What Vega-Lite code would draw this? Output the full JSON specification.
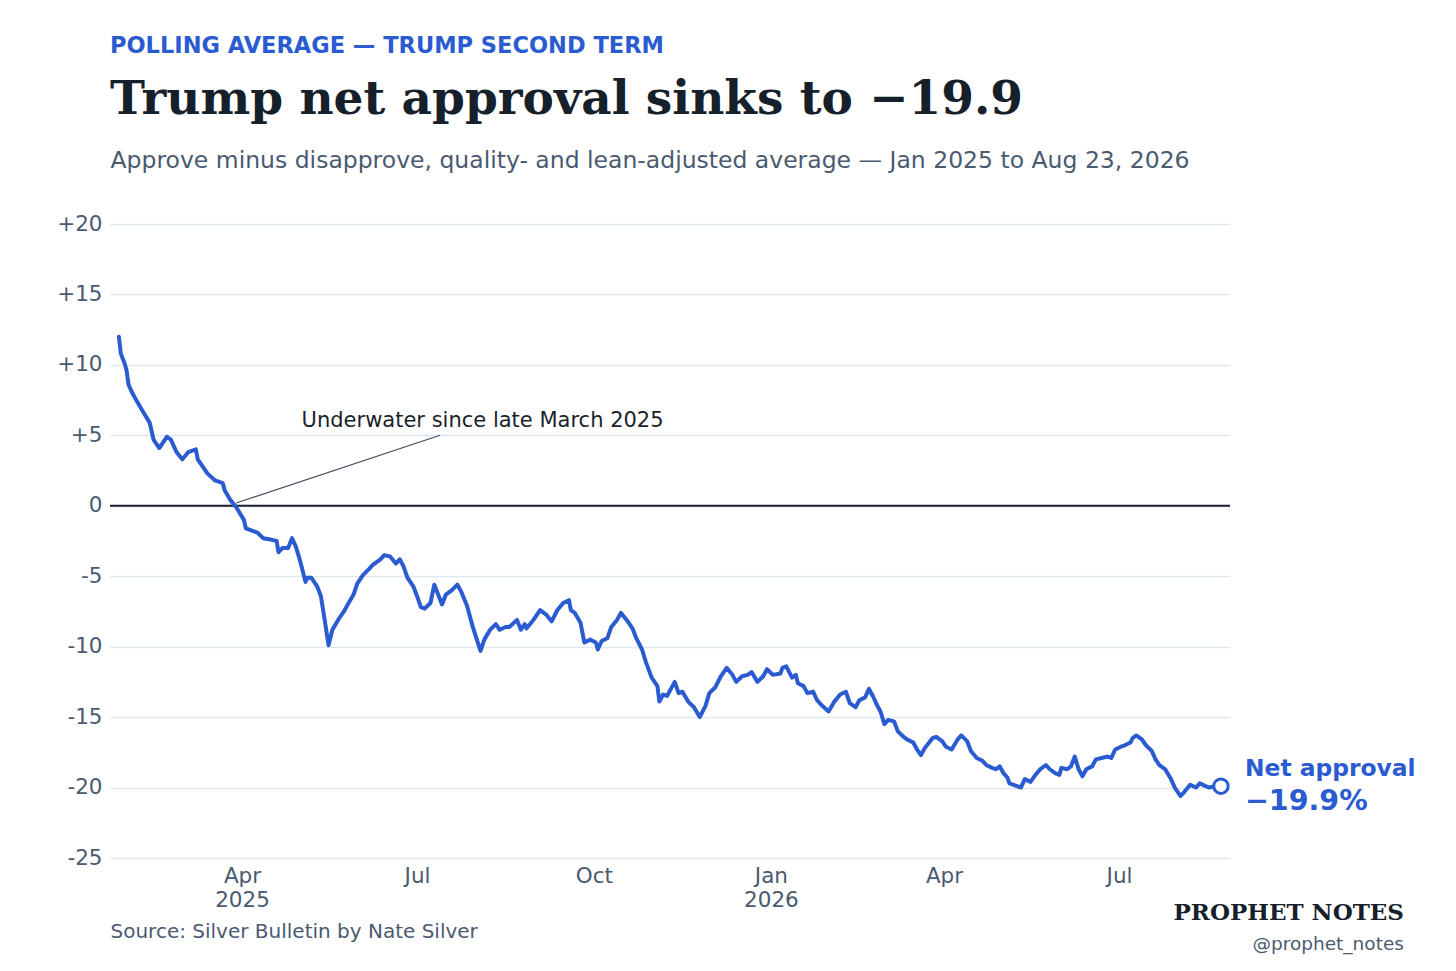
{
  "$schema": "https://vega.github.io/schema/vega-lite/v6.json",
  "width": 1120,
  "height": 634,
  "autosize": {"type": "none"},
  "padding": {"left": 110, "top": 224, "right": 226, "bottom": 113},
  "background": "white",
  "config": {"view": {"stroke": null}, "font": "DejaVu Sans"},
  "title": {
    "text": "POLLING AVERAGE — TRUMP SECOND TERM",
    "subtitle": "Trump net approval sinks to −19.9",
    "anchor": "start",
    "frame": "group",
    "font": "DejaVu Sans",
    "fontSize": 22.5,
    "fontWeight": "bold",
    "color": "#2a5bd0",
    "subtitleFont": "DejaVu Serif",
    "subtitleFontSize": 47,
    "subtitleFontWeight": "bold",
    "subtitleColor": "#15202b",
    "subtitlePadding": 20,
    "offset": 25
  },
  "datasets": {
    "poll": [
      {"date": "2025-01-27", "net": 12.0},
      {"date": "2025-01-28", "net": 10.8},
      {"date": "2025-01-30", "net": 10.1},
      {"date": "2025-01-31", "net": 9.6},
      {"date": "2025-02-01", "net": 8.6},
      {"date": "2025-02-03", "net": 8.0},
      {"date": "2025-02-05", "net": 7.5},
      {"date": "2025-02-08", "net": 6.8},
      {"date": "2025-02-12", "net": 5.9},
      {"date": "2025-02-14", "net": 4.7},
      {"date": "2025-02-17", "net": 4.1},
      {"date": "2025-02-21", "net": 4.9},
      {"date": "2025-02-23", "net": 4.7},
      {"date": "2025-02-26", "net": 3.8},
      {"date": "2025-03-01", "net": 3.3},
      {"date": "2025-03-04", "net": 3.8},
      {"date": "2025-03-08", "net": 4.0},
      {"date": "2025-03-09", "net": 3.3},
      {"date": "2025-03-14", "net": 2.3},
      {"date": "2025-03-18", "net": 1.8},
      {"date": "2025-03-22", "net": 1.6},
      {"date": "2025-03-23", "net": 1.1},
      {"date": "2025-03-26", "net": 0.4},
      {"date": "2025-03-29", "net": -0.1},
      {"date": "2025-04-02", "net": -1.0},
      {"date": "2025-04-03", "net": -1.6},
      {"date": "2025-04-09", "net": -1.9},
      {"date": "2025-04-12", "net": -2.3},
      {"date": "2025-04-16", "net": -2.4},
      {"date": "2025-04-19", "net": -2.5},
      {"date": "2025-04-20", "net": -3.3},
      {"date": "2025-04-22", "net": -3.0},
      {"date": "2025-04-25", "net": -3.0},
      {"date": "2025-04-27", "net": -2.3},
      {"date": "2025-04-29", "net": -2.9},
      {"date": "2025-05-01", "net": -3.8},
      {"date": "2025-05-04", "net": -5.4},
      {"date": "2025-05-05", "net": -5.1},
      {"date": "2025-05-07", "net": -5.1},
      {"date": "2025-05-10", "net": -5.7},
      {"date": "2025-05-12", "net": -6.4},
      {"date": "2025-05-14", "net": -8.1},
      {"date": "2025-05-16", "net": -9.9},
      {"date": "2025-05-18", "net": -8.8},
      {"date": "2025-05-21", "net": -8.1},
      {"date": "2025-05-24", "net": -7.5},
      {"date": "2025-05-26", "net": -7.0},
      {"date": "2025-05-29", "net": -6.3},
      {"date": "2025-05-31", "net": -5.5},
      {"date": "2025-06-03", "net": -4.9},
      {"date": "2025-06-06", "net": -4.5},
      {"date": "2025-06-08", "net": -4.2},
      {"date": "2025-06-12", "net": -3.8},
      {"date": "2025-06-14", "net": -3.5},
      {"date": "2025-06-17", "net": -3.6},
      {"date": "2025-06-20", "net": -4.1},
      {"date": "2025-06-22", "net": -3.8},
      {"date": "2025-06-24", "net": -4.3},
      {"date": "2025-06-26", "net": -5.1},
      {"date": "2025-06-29", "net": -5.7},
      {"date": "2025-07-01", "net": -6.4},
      {"date": "2025-07-03", "net": -7.2},
      {"date": "2025-07-05", "net": -7.3},
      {"date": "2025-07-08", "net": -6.9},
      {"date": "2025-07-10", "net": -5.6},
      {"date": "2025-07-12", "net": -6.3},
      {"date": "2025-07-14", "net": -7.0},
      {"date": "2025-07-16", "net": -6.3},
      {"date": "2025-07-19", "net": -6.0},
      {"date": "2025-07-22", "net": -5.6},
      {"date": "2025-07-24", "net": -6.1},
      {"date": "2025-07-27", "net": -7.1},
      {"date": "2025-07-30", "net": -8.6},
      {"date": "2025-08-03", "net": -10.3},
      {"date": "2025-08-05", "net": -9.5},
      {"date": "2025-08-08", "net": -8.8},
      {"date": "2025-08-11", "net": -8.4},
      {"date": "2025-08-13", "net": -8.8},
      {"date": "2025-08-16", "net": -8.6},
      {"date": "2025-08-18", "net": -8.6},
      {"date": "2025-08-22", "net": -8.1},
      {"date": "2025-08-24", "net": -8.8},
      {"date": "2025-08-26", "net": -8.4},
      {"date": "2025-08-27", "net": -8.7},
      {"date": "2025-08-30", "net": -8.2},
      {"date": "2025-09-03", "net": -7.4},
      {"date": "2025-09-06", "net": -7.7},
      {"date": "2025-09-09", "net": -8.2},
      {"date": "2025-09-12", "net": -7.4},
      {"date": "2025-09-15", "net": -6.9},
      {"date": "2025-09-18", "net": -6.7},
      {"date": "2025-09-19", "net": -7.4},
      {"date": "2025-09-21", "net": -7.6},
      {"date": "2025-09-24", "net": -8.3},
      {"date": "2025-09-26", "net": -9.7},
      {"date": "2025-09-29", "net": -9.5},
      {"date": "2025-10-02", "net": -9.7},
      {"date": "2025-10-03", "net": -10.2},
      {"date": "2025-10-05", "net": -9.6},
      {"date": "2025-10-08", "net": -9.4},
      {"date": "2025-10-10", "net": -8.6},
      {"date": "2025-10-13", "net": -8.1},
      {"date": "2025-10-15", "net": -7.6},
      {"date": "2025-10-18", "net": -8.1},
      {"date": "2025-10-21", "net": -8.7},
      {"date": "2025-10-23", "net": -9.4},
      {"date": "2025-10-26", "net": -10.2},
      {"date": "2025-10-28", "net": -11.1},
      {"date": "2025-10-31", "net": -12.2},
      {"date": "2025-11-03", "net": -12.8},
      {"date": "2025-11-04", "net": -13.9},
      {"date": "2025-11-06", "net": -13.4},
      {"date": "2025-11-08", "net": -13.5},
      {"date": "2025-11-12", "net": -12.5},
      {"date": "2025-11-14", "net": -13.3},
      {"date": "2025-11-16", "net": -13.2},
      {"date": "2025-11-19", "net": -13.9},
      {"date": "2025-11-22", "net": -14.3},
      {"date": "2025-11-25", "net": -15.0},
      {"date": "2025-11-28", "net": -14.2},
      {"date": "2025-11-30", "net": -13.3},
      {"date": "2025-12-03", "net": -12.9},
      {"date": "2025-12-06", "net": -12.1},
      {"date": "2025-12-09", "net": -11.5},
      {"date": "2025-12-12", "net": -12.0},
      {"date": "2025-12-14", "net": -12.5},
      {"date": "2025-12-17", "net": -12.1},
      {"date": "2025-12-20", "net": -12.0},
      {"date": "2025-12-22", "net": -11.8},
      {"date": "2025-12-25", "net": -12.5},
      {"date": "2025-12-28", "net": -12.1},
      {"date": "2025-12-30", "net": -11.6},
      {"date": "2026-01-02", "net": -12.0},
      {"date": "2026-01-06", "net": -11.9},
      {"date": "2026-01-07", "net": -11.5},
      {"date": "2026-01-09", "net": -11.4},
      {"date": "2026-01-12", "net": -12.2},
      {"date": "2026-01-14", "net": -12.0},
      {"date": "2026-01-15", "net": -12.6},
      {"date": "2026-01-18", "net": -12.8},
      {"date": "2026-01-20", "net": -13.3},
      {"date": "2026-01-23", "net": -13.2},
      {"date": "2026-01-25", "net": -13.8},
      {"date": "2026-01-27", "net": -14.1},
      {"date": "2026-01-31", "net": -14.6},
      {"date": "2026-02-03", "net": -13.9},
      {"date": "2026-02-06", "net": -13.4},
      {"date": "2026-02-09", "net": -13.2},
      {"date": "2026-02-11", "net": -14.0},
      {"date": "2026-02-14", "net": -14.3},
      {"date": "2026-02-16", "net": -13.8},
      {"date": "2026-02-19", "net": -13.6},
      {"date": "2026-02-21", "net": -13.0},
      {"date": "2026-02-23", "net": -13.5},
      {"date": "2026-02-25", "net": -14.1},
      {"date": "2026-02-27", "net": -14.6},
      {"date": "2026-03-01", "net": -15.5},
      {"date": "2026-03-03", "net": -15.2},
      {"date": "2026-03-06", "net": -15.3},
      {"date": "2026-03-08", "net": -16.0},
      {"date": "2026-03-11", "net": -16.4},
      {"date": "2026-03-13", "net": -16.6},
      {"date": "2026-03-16", "net": -16.8},
      {"date": "2026-03-18", "net": -17.3},
      {"date": "2026-03-20", "net": -17.7},
      {"date": "2026-03-22", "net": -17.2},
      {"date": "2026-03-26", "net": -16.5},
      {"date": "2026-03-28", "net": -16.4},
      {"date": "2026-03-31", "net": -16.7},
      {"date": "2026-04-02", "net": -17.1},
      {"date": "2026-04-05", "net": -17.3},
      {"date": "2026-04-08", "net": -16.6},
      {"date": "2026-04-10", "net": -16.3},
      {"date": "2026-04-13", "net": -16.7},
      {"date": "2026-04-15", "net": -17.4},
      {"date": "2026-04-18", "net": -17.9},
      {"date": "2026-04-21", "net": -18.1},
      {"date": "2026-04-23", "net": -18.4},
      {"date": "2026-04-26", "net": -18.6},
      {"date": "2026-04-28", "net": -18.7},
      {"date": "2026-04-30", "net": -18.5},
      {"date": "2026-05-02", "net": -19.0},
      {"date": "2026-05-04", "net": -19.3},
      {"date": "2026-05-05", "net": -19.7},
      {"date": "2026-05-09", "net": -19.9},
      {"date": "2026-05-11", "net": -20.0},
      {"date": "2026-05-13", "net": -19.4},
      {"date": "2026-05-16", "net": -19.6},
      {"date": "2026-05-18", "net": -19.2},
      {"date": "2026-05-21", "net": -18.7},
      {"date": "2026-05-24", "net": -18.4},
      {"date": "2026-05-26", "net": -18.7},
      {"date": "2026-05-29", "net": -19.0},
      {"date": "2026-05-31", "net": -19.1},
      {"date": "2026-06-01", "net": -18.6},
      {"date": "2026-06-04", "net": -18.7},
      {"date": "2026-06-06", "net": -18.5},
      {"date": "2026-06-08", "net": -17.8},
      {"date": "2026-06-10", "net": -18.7},
      {"date": "2026-06-12", "net": -19.2},
      {"date": "2026-06-14", "net": -18.7},
      {"date": "2026-06-17", "net": -18.5},
      {"date": "2026-06-19", "net": -18.0},
      {"date": "2026-06-22", "net": -17.9},
      {"date": "2026-06-25", "net": -17.8},
      {"date": "2026-06-27", "net": -17.9},
      {"date": "2026-06-29", "net": -17.3},
      {"date": "2026-07-02", "net": -17.1},
      {"date": "2026-07-04", "net": -17.0},
      {"date": "2026-07-07", "net": -16.8},
      {"date": "2026-07-08", "net": -16.5},
      {"date": "2026-07-10", "net": -16.3},
      {"date": "2026-07-13", "net": -16.6},
      {"date": "2026-07-15", "net": -17.0},
      {"date": "2026-07-18", "net": -17.4},
      {"date": "2026-07-20", "net": -18.0},
      {"date": "2026-07-22", "net": -18.4},
      {"date": "2026-07-25", "net": -18.7},
      {"date": "2026-07-28", "net": -19.4},
      {"date": "2026-07-30", "net": -20.0},
      {"date": "2026-08-02", "net": -20.6},
      {"date": "2026-08-04", "net": -20.3},
      {"date": "2026-08-07", "net": -19.8},
      {"date": "2026-08-10", "net": -20.0},
      {"date": "2026-08-12", "net": -19.7},
      {"date": "2026-08-15", "net": -19.9},
      {"date": "2026-08-17", "net": -20.0},
      {"date": "2026-08-20", "net": -19.9},
      {"date": "2026-08-23", "net": -19.9}
    ],
    "latest": [
      {"date": "2026-08-23", "net": -19.9}
    ],
    "zero": [
      {"net": 0}
    ],
    "note": [
      {"date": "2025-05-02", "net": 5.6, "label": "Underwater since late March 2025"}
    ],
    "leader": [
      {"date": "2025-03-29", "net": 0.2, "date2": "2025-07-13", "net2": 5.0}
    ]
  },
  "layer": [
    {
      "data": {"name": "poll"},
      "mark": {"type": "line", "color": "#2a5bd0", "strokeWidth": 0, "opacity": 0},
      "encoding": {
        "x": {
          "field": "date",
          "type": "temporal",
          "scale": {
            "type": "utc",
            "domain": [
              {"year": 2025, "month": 1, "date": 22, "hours": 9, "utc": true},
              {"year": 2026, "month": 8, "date": 27, "hours": 17, "utc": true}
            ]
          },
          "axis": {
            "orient": "bottom",
            "values": [
              {"year": 2025, "month": 4, "date": 1, "utc": true},
              {"year": 2025, "month": 7, "date": 1, "utc": true},
              {"year": 2025, "month": 10, "date": 1, "utc": true},
              {"year": 2026, "month": 1, "date": 1, "utc": true},
              {"year": 2026, "month": 4, "date": 1, "utc": true},
              {"year": 2026, "month": 7, "date": 1, "utc": true}
            ],
            "labelExpr": "utcmonth(datum.value) == 0 || (utcmonth(datum.value) == 3 && utcyear(datum.value) == 2025) ? [utcFormat(datum.value, '%b'), utcFormat(datum.value, '%Y')] : utcFormat(datum.value, '%b')",
            "labelFont": "DejaVu Sans",
            "labelFontSize": 21.5,
            "labelColor": "#4a5a70",
            "labelLineHeight": 24,
            "labelPadding": 7,
            "labelFlush": false,
            "labelOverlap": false,
            "grid": false,
            "ticks": false,
            "domain": false,
            "title": "Source: Silver Bulletin by Nate Silver",
            "titleFont": "DejaVu Sans",
            "titleFontSize": 20,
            "titleFontWeight": "normal",
            "titleColor": "#4a5a70",
            "titleAnchor": "start",
            "titleAlign": "left",
            "titlePadding": 11
          }
        },
        "y": {
          "field": "net",
          "type": "quantitative",
          "scale": {"domain": [-25, 20], "nice": false, "zero": false},
          "axis": {
            "values": [-25, -20, -15, -10, -5, 0, 5, 10, 15, 20],
            "labelExpr": "datum.value > 0 ? '+' + datum.value : '' + datum.value",
            "labelFont": "DejaVu Sans",
            "labelFontSize": 21.5,
            "labelColor": "#4a5a70",
            "labelPadding": 8,
            "grid": true,
            "gridColor": "#dfe8f0",
            "gridWidth": 1.3,
            "ticks": false,
            "domain": false,
            "title": null
          }
        }
      }
    },
    {
      "data": {"name": "zero"},
      "mark": {"type": "rule", "color": "#1a1f2b", "strokeWidth": 2},
      "encoding": {
        "y": {"field": "net", "type": "quantitative"}
      }
    },
    {
      "data": {"name": "leader"},
      "mark": {"type": "rule", "color": "#3d4a5c", "strokeWidth": 1.1},
      "encoding": {
        "x": {"field": "date", "type": "temporal", "axis": null},
        "x2": {"field": "date2"},
        "y": {"field": "net", "type": "quantitative"},
        "y2": {"field": "net2"}
      }
    },
    {
      "data": {"name": "poll"},
      "mark": {"type": "line", "color": "#2a5bd0", "strokeWidth": 4, "strokeJoin": "round", "strokeCap": "round"},
      "encoding": {
        "x": {"field": "date", "type": "temporal", "axis": null},
        "y": {"field": "net", "type": "quantitative"}
      }
    },
    {
      "data": {"name": "latest"},
      "mark": {"type": "point", "shape": "circle", "filled": true, "fill": "white", "stroke": "#2a5bd0", "strokeWidth": 3, "size": 210, "opacity": 1},
      "encoding": {
        "x": {
          "field": "date",
          "type": "temporal",
          "axis": {
            "orient": "top",
            "labels": false,
            "ticks": false,
            "domain": false,
            "grid": false,
            "title": "Approve minus disapprove, quality- and lean-adjusted average — Jan 2025 to Aug 23, 2026",
            "titleFont": "DejaVu Sans",
            "titleFontSize": 23.5,
            "titleFontWeight": "normal",
            "titleColor": "#4a5a70",
            "titleAnchor": "start",
            "titleAlign": "left",
            "titleBaseline": "alphabetic",
            "titlePadding": 57
          }
        },
        "y": {"field": "net", "type": "quantitative"}
      }
    },
    {
      "data": {"name": "latest"},
      "mark": {"type": "text", "text": "Net approval", "align": "left", "baseline": "alphabetic", "dx": 24, "dy": -10, "font": "DejaVu Sans", "fontSize": 23.4, "fontWeight": "bold", "color": "#2a5bd0"},
      "encoding": {
        "x": {"field": "date", "type": "temporal", "axis": null},
        "y": {"field": "net", "type": "quantitative"}
      }
    },
    {
      "data": {"name": "latest"},
      "mark": {"type": "text", "text": "−19.9%", "align": "left", "baseline": "alphabetic", "dx": 24, "dy": 24, "font": "DejaVu Sans", "fontSize": 28.5, "fontWeight": "bold", "color": "#2a5bd0"},
      "encoding": {
        "x": {"field": "date", "type": "temporal", "axis": null},
        "y": {"field": "net", "type": "quantitative"}
      }
    },
    {
      "data": {"name": "latest"},
      "mark": {"type": "text", "text": "PROPHET NOTES", "align": "right", "baseline": "alphabetic", "dx": 183, "dy": 134, "font": "DejaVu Serif", "fontSize": 23, "fontWeight": "bold", "color": "#15202b"},
      "encoding": {
        "x": {"field": "date", "type": "temporal", "axis": null},
        "y": {"field": "net", "type": "quantitative"}
      }
    },
    {
      "data": {"name": "latest"},
      "mark": {"type": "text", "text": "@prophet_notes", "align": "right", "baseline": "alphabetic", "dx": 183, "dy": 164, "font": "DejaVu Sans", "fontSize": 18.5, "color": "#4a5a70"},
      "encoding": {
        "x": {"field": "date", "type": "temporal", "axis": null},
        "y": {"field": "net", "type": "quantitative"}
      }
    },
    {
      "data": {"name": "note"},
      "mark": {"type": "text", "align": "left", "baseline": "alphabetic", "font": "DejaVu Sans", "fontSize": 21, "color": "#1a1f2b"},
      "encoding": {
        "x": {"field": "date", "type": "temporal", "axis": null},
        "y": {"field": "net", "type": "quantitative"},
        "text": {"field": "label"}
      }
    }
  ],
  "resolve": {"axis": {"x": "independent"}}
}
